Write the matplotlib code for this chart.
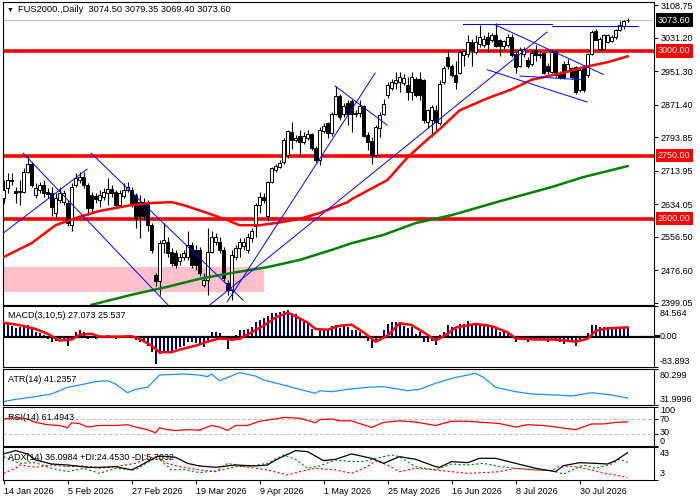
import numpy as np
import matplotlib
matplotlib.use("Agg")
from matplotlib import pyplot as plt
from matplotlib.patches import Rectangle
from matplotlib.transforms import blended_transform_factory

plt.rcParams['font.family'] = ['Liberation Sans', 'DejaVu Sans']

# daily candles, 14 Jan 2026 .. mid Aug 2026
opens = [
    2648, 2672, 2690, 2666, 2664, 2664, 2712, 2731, 2656, 2668,
    2680, 2664, 2660, 2613, 2644, 2640, 2636, 2585, 2680, 2692,
    2700, 2680, 2656, 2654, 2644, 2652, 2662, 2670, 2664, 2632,
    2654, 2668, 2668, 2656, 2640, 2640, 2636, 2585, 2466, 2450,
    2541, 2545, 2521, 2517, 2498, 2509, 2509, 2537, 2525, 2525,
    2442, 2454, 2521, 2545, 2545, 2525, 2446, 2430, 2509, 2529,
    2535, 2525, 2553, 2581, 2632, 2652, 2605, 2688, 2716, 2724,
    2735, 2751, 2807, 2787, 2796, 2783, 2793, 2801, 2769, 2739,
    2809, 2827, 2803, 2850, 2892, 2849, 2876, 2880, 2849, 2852,
    2868, 2799, 2785, 2751, 2815, 2850, 2894, 2912, 2923, 2926,
    2923, 2918, 2902, 2934, 2934, 2930, 2831, 2835, 2858, 2827,
    2926, 2985, 2965, 2942, 2947, 2989, 2992, 3021, 2997, 3017,
    3013, 3033, 3025, 3039, 3027, 3011, 3013, 3034, 2993, 2965,
    2993, 2979, 2968, 3003, 2989, 2995, 2965, 2950, 2997, 2946,
    2969, 2954, 2958, 2961, 2906, 2961, 2942, 2993, 3047, 3005,
    3005, 3021, 3023, 3033, 3049, 3059, 3074.50]
highs = [
    2692, 2708, 2708, 2676, 2692, 2720, 2749, 2735, 2684, 2688,
    2692, 2672, 2676, 2660, 2676, 2668, 2644, 2684, 2708, 2712,
    2710, 2684, 2664, 2660, 2668, 2672, 2696, 2680, 2668, 2668,
    2684, 2688, 2676, 2660, 2656, 2648, 2644, 2589, 2470, 2549,
    2589, 2557, 2530, 2525, 2517, 2525, 2569, 2545, 2537, 2533,
    2470, 2577, 2569, 2565, 2557, 2533, 2454, 2525, 2537, 2553,
    2553, 2565, 2577, 2636, 2664, 2660, 2690, 2724, 2731, 2739,
    2792, 2812, 2831, 2799, 2811, 2807, 2811, 2805, 2773, 2819,
    2827, 2831, 2853, 2915, 2898, 2876, 2882, 2886, 2858, 2882,
    2870, 2807, 2795, 2823, 2854, 2886, 2926, 2934, 2950, 2950,
    2944, 2938, 2950, 2938, 2950, 2934, 2862, 2870, 2870, 2930,
    2965, 3003, 2969, 2977, 3003, 3001, 3037, 3029, 3037, 3061,
    3037, 3045, 3042, 3066, 3029, 3027, 3041, 3041, 3001, 3009,
    3010, 2985, 3003, 3013, 2999, 2997, 2971, 3001, 3001, 2952,
    2977, 2981, 2962, 2963, 2958, 2965, 2995, 3049, 3053, 3033,
    3041, 3041, 3037, 3053, 3072, 3074, 3079.35]
lows = [
    2636, 2660, 2680, 2636, 2632, 2660, 2708, 2676, 2648, 2660,
    2652, 2648, 2605, 2601, 2636, 2632, 2581, 2569, 2676, 2684,
    2672, 2609, 2613, 2636, 2628, 2644, 2632, 2652, 2624, 2628,
    2648, 2664, 2628, 2577, 2553, 2597, 2569, 2517, 2440, 2418,
    2517, 2509, 2486, 2482, 2490, 2502, 2502, 2482, 2478, 2462,
    2436, 2418, 2517, 2537, 2517, 2450, 2418, 2406, 2502, 2509,
    2525, 2517, 2545, 2557, 2612, 2636, 2593, 2684, 2710, 2720,
    2731, 2745, 2767, 2783, 2751, 2777, 2787, 2763, 2735, 2727,
    2803, 2791, 2797, 2846, 2835, 2843, 2823, 2807, 2843, 2843,
    2795, 2763, 2731, 2747, 2795, 2846, 2888, 2906, 2910, 2902,
    2918, 2882, 2882, 2890, 2882, 2827, 2815, 2795, 2811, 2823,
    2920, 2957, 2938, 2910, 2945, 2965, 2985, 2965, 2993, 3009,
    3009, 2997, 3021, 3009, 2987, 3005, 3009, 2985, 2946, 2962,
    2985, 2958, 2963, 2977, 2983, 2944, 2945, 2947, 2938, 2932,
    2934, 2950, 2934, 2898, 2902, 2902, 2938, 2989, 3025, 3001,
    3001, 3019, 3021, 3029, 3047, 3053, 3069.40]
closes = [
    2668, 2692, 2692, 2662, 2665, 2712, 2731, 2680, 2672, 2680,
    2660, 2658, 2628, 2648, 2660, 2660, 2589, 2676, 2696, 2700,
    2680, 2624, 2624, 2646, 2656, 2664, 2670, 2660, 2632, 2660,
    2668, 2676, 2632, 2601, 2605, 2605, 2585, 2525, 2450, 2541,
    2549, 2517, 2494, 2490, 2509, 2517, 2537, 2490, 2490, 2470,
    2454, 2521, 2557, 2557, 2525, 2458, 2430, 2513, 2529, 2545,
    2543, 2557, 2569, 2632, 2652, 2644, 2688, 2720, 2725, 2733,
    2788, 2808, 2787, 2791, 2783, 2796, 2801, 2769, 2739, 2812,
    2820, 2803, 2849, 2892, 2843, 2869, 2850, 2849, 2851, 2868,
    2797, 2783, 2751, 2819, 2846, 2873, 2918, 2926, 2930, 2938,
    2936, 2902, 2938, 2894, 2894, 2835, 2858, 2866, 2831, 2922,
    2960, 2965, 2942, 2926, 2997, 2999, 3021, 3001, 3021, 3033,
    3029, 3017, 3039, 3011, 3011, 3023, 3034, 2989, 2961, 3003,
    3005, 2965, 2995, 2989, 2993, 2947, 2951, 2997, 2942, 2938,
    2938, 2969, 2938, 2902, 2954, 2906, 2993, 3045, 3027, 3029,
    3037, 3037, 3033, 3049, 3061, 3072, 3073.60]

# moving averages (sampled along the drawn curves)
ma_red_idx = [0, 7, 13, 19, 24, 32, 37, 42, 45, 51, 56, 59, 64, 68, 74, 79, 86, 87,
              96, 101, 106, 109, 114, 121, 127, 132, 140, 145, 151, 156]
ma_red = [2508, 2541, 2584, 2604, 2618, 2632, 2637, 2639, 2632, 2613, 2596, 2584,
          2584, 2589, 2599, 2613, 2639, 2646, 2692, 2746, 2789, 2813, 2858, 2887,
          2908, 2931, 2948, 2961, 2973, 2987]
ma_green_idx = [22, 32, 41, 49, 57, 66, 74, 82, 87, 95, 103, 112, 120, 124, 137, 145, 156]
ma_green = [2394, 2418, 2437, 2456, 2470, 2484, 2501, 2525, 2541, 2561, 2589, 2608,
            2630, 2641, 2675, 2699, 2725]

levels = [3000.0, 2750.0, 2600.0]
last_price = 3073.60
price_ticks = [3108.75, 3031.20, 2951.30, 2871.40, 2793.85, 2713.95, 2634.05,
               2556.50, 2476.60, 2399.05]

# pink demand zone: bar range and price range
zone_bars = (-0.25, 65)
zone_prices = (2425, 2484)

# hand drawn trend lines: (bar0, price0, bar1, price1)
trend_lines = [
    (4.9, 2756, 41.1, 2394),
    (-0.1, 2565, 20.9, 2718),
    (21.9, 2756, 59.9, 2405),
    (55.9, 2401, 92.9, 2947),
    (51.6, 2394, 135.9, 3045),
    (82.9, 2916, 95.9, 2823),
    (114.9, 3063, 137.1, 3063),
    (137.1, 3060, 158.6, 3060),
    (122.9, 3062, 149.9, 2944),
    (120.9, 2955, 145.9, 2878),
    (129.1, 2940, 144.9, 2931),
]

# MACD(3,10,5)
macd_main = [
    35, 35, 30, 23, 26, 30, 32, 23, 12, 9,
    5, -6, -16, -11, -6, -11, -27, -5, 12, 18,
    14, -6, -5, -6, -2, 1, 5, 3, -6, -5,
    3, 5, -5, -8, -14, -16, -25, -43, -75, -48,
    -43, -43, -39, -34, -29, -25, -16, -16, -18, -20,
    -29, -14, 12, 14, 10, -6, -34, -11, 5, 17,
    17, 21, 26, 41, 47, 51, 58, 65, 65, 67,
    72, 74, 65, 63, 49, 40, 38, 21, 3, 21,
    21, 21, 30, 32, 23, 30, 26, 19, 17, 14,
    -5, -11, -32, -11, 3, 17, 35, 41, 41, 40,
    30, 23, 26, 7, 12, -16, -16, -11, -23, 5,
    12, 32, 26, 21, 35, 35, 44, 35, 35, 35,
    32, 26, 29, 23, 12, 12, 10, 5, -16, -6,
    -5, -14, -8, -6, -8, -8, -16, -6, -11, -14,
    -20, -11, -16, -25, -11, -5, 9, 32, 32, 27,
    27, 27, 27, 27, 27, 27, 27.073]
macd_sig_idx = [0, 4, 8, 11, 14, 17, 19, 22, 24, 29, 32, 34, 37, 39, 42, 44, 48, 51,
                54, 57, 59, 62, 65, 68, 71, 73, 76, 78, 81, 84, 87, 90, 93, 96, 99,
                102, 106, 108, 111, 113, 118, 122, 126, 128, 133, 138, 143, 146,
                148, 151, 156]
macd_sig = [38, 32, 21, 8, -11, -8, 5, 8, 0, 0, 1, -6, -25, -43, -43, -36, -25, -14,
            -5, -8, -6, 12, 30, 53, 66, 56, 39, 21, 19, 30, 33, 12, -14, 3, 37, 32,
            5, -11, 8, 25, 35, 29, 12, -5, -8, -8, -14, -6, 16, 23, 25.537]

# ATR(14)
atr_idx = [0, 3, 8, 12, 16, 19, 23, 26, 28, 31, 33, 36, 39, 45, 49, 51, 52, 54, 59,
           63, 65, 70, 74, 78, 79, 82, 86, 91, 95, 101, 104, 108, 112, 118, 120,
           123, 128, 132, 138, 142, 147, 152, 156]
atr = [36.5, 39.6, 43.2, 46.8, 55.7, 58.8, 63.3, 64.6, 60.2, 48.5, 53.0, 55.7, 72.2,
       73.6, 72.2, 70.0, 73.6, 64.6, 75.4, 70.9, 65.5, 58.8, 53.0, 47.7, 51.2, 49.9,
       53.0, 55.7, 56.6, 51.2, 53.0, 61.1, 67.8, 74.5, 69.1, 55.7, 49.9, 46.8, 45.4,
       44.1, 48.5, 45.4, 41.2357]

# RSI(14)
rsi_idx = [0, 3, 6, 8, 11, 14, 16, 17, 19, 21, 24, 28, 31, 33, 36, 38, 39, 41, 43,
           46, 49, 52, 54, 56, 58, 61, 64, 68, 70, 74, 78, 79, 82, 84, 87, 89, 92,
           95, 99, 103, 108, 112, 116, 120, 124, 128, 131, 135, 138, 143, 147, 150,
           153, 156]
rsi = [69, 72, 69, 60, 54, 52, 46, 59, 57, 48, 52, 52, 54, 48, 41, 33, 46, 41, 39,
       41, 40, 52, 48, 39, 52, 52, 63, 69, 73, 71, 59, 67, 69, 64, 64, 57, 47, 60,
       64, 61, 52, 63, 63, 60, 57, 48, 54, 52, 48, 41, 56, 56, 60, 61.4943]

# ADX(14)
adx_idx = [0, 3, 6, 8, 12, 16, 21, 24, 28, 32, 34, 38, 39, 43, 46, 49, 53, 58, 63,
           66, 68, 73, 76, 80, 83, 87, 92, 95, 99, 103, 108, 109, 112, 116, 119,
           123, 128, 133, 138, 140, 144, 148, 151, 153, 156]
adx = [34.6, 38.6, 34.6, 27.3, 22.4, 21.2, 18.4, 18.4, 19.2, 15.2, 20.0, 30.5, 32.1,
       30.5, 23.2, 20.0, 18.4, 21.2, 20.0, 21.2, 27.3, 38.6, 37.4, 26.5, 28.1, 34.6,
       29.3, 23.2, 31.3, 28.1, 19.2, 18.4, 25.3, 24.0, 29.3, 29.3, 23.2, 17.2, 13.1,
       20.4, 24.0, 23.2, 22.4, 26.5, 36.0984]
pdi_idx = [0, 4, 8, 12, 16, 20, 24, 28, 33, 37, 39, 42, 45, 49, 54, 58, 62, 66, 70,
           73, 76, 79, 83, 87, 90, 93, 97, 99, 103, 108, 112, 116, 120, 124, 128,
           133, 137, 140, 145, 148, 152, 154, 156]
pdi = [31.3, 23.2, 24.0, 17.2, 13.1, 17.2, 11.1, 17.2, 15.2, 27.3, 28.1, 15.2, 16.0,
       11.9, 14.4, 19.2, 20.0, 23.2, 33.3, 28.1, 17.2, 20.0, 27.3, 25.3, 25.3, 29.3,
       33.3, 31.3, 19.2, 15.2, 22.4, 21.2, 23.2, 19.2, 17.2, 15.2, 14.4, 10.3, 21.2,
       17.2, 22.4, 28.1, 24.4530]
ndi_idx = [0, 3, 4, 8, 12, 16, 20, 24, 28, 33, 36, 38, 41, 44, 49, 53, 56, 59, 63,
           66, 71, 74, 78, 83, 87, 91, 93, 96, 99, 103, 108, 112, 116, 120, 124,
           128, 133, 137, 139, 143, 147, 150, 153, 156]
ndi = [11.1, 17.2, 21.2, 18.4, 21.2, 19.2, 20.0, 17.2, 19.2, 23.2, 29.3, 31.3, 23.2,
       19.2, 15.2, 13.1, 23.2, 20.0, 17.2, 15.2, 9.1, 13.1, 17.2, 15.2, 11.1, 19.2,
       26.5, 21.2, 13.1, 17.2, 15.2, 13.1, 11.1, 11.9, 13.1, 17.2, 15.2, 14.4, 20.0,
       19.2, 15.2, 11.1, 9.1, 5.7632]

date_pos = [0, 16, 32, 48, 64, 80, 96, 112, 128, 144]
date_labels = ['14 Jan 2026', '5 Feb 2026', '27 Feb 2026', '19 Mar 2026', '9 Apr 2026',
               '1 May 2026', '25 May 2026', '16 Jun 2026', '8 Jul 2026', '30 Jul 2026']

FS = 6.5
W, H = 700, 500
fig = plt.figure(figsize=(7, 5), dpi=100)
fig.patch.set_facecolor('white')


def panel(top_px, bottom_px):
    ax = fig.add_axes([2.5 / W, 1 - bottom_px / H, 651.5 / W, (bottom_px - top_px) / H])
    ax.set_xlim(-0.25, 162.6)
    ax.set_xticks([])
    for s in ax.spines.values():
        s.set_linewidth(0.8)
        s.set_color('black')
    ax.yaxis.tick_right()
    ax.tick_params(axis='y', length=3, width=0.7, pad=2, labelsize=FS, direction='out')
    return ax


def side_labels(ax, items):
    # MT4 style scale texts for the sub windows: (value, text, va, shift in px)
    trans = blended_transform_factory(ax.transAxes, ax.transData)
    ax.set_yticks([v for v, _, _, _ in items])
    ax.set_yticklabels([])
    for v, txt, va, dy in items:
        ax.annotate(txt, xy=(1, v), xycoords=trans, xytext=(6, dy),
                    textcoords='offset pixels', ha='left', va=va, fontsize=FS,
                    annotation_clip=False)


def title(ax, txt):
    ax.annotate(txt, xy=(0, 1), xycoords='axes fraction', xytext=(5, -10),
                textcoords='offset pixels', ha='left', va='center', fontsize=FS)


# ---- main price window
main = panel(2, 305)
main.set_ylim(2393.6, 3116.6)
o, h, l, c = (np.array(v, dtype=float) for v in (opens, highs, lows, closes))
idx = np.arange(len(c))
up = c >= o

main.axhline(last_price, color='#c0c0c0', lw=0.8, zorder=1)
main.add_patch(Rectangle((zone_bars[0], zone_prices[0]), zone_bars[1] - zone_bars[0],
                         zone_prices[1] - zone_prices[0], facecolor='pink',
                         edgecolor='none', zorder=0))
for lvl in levels:
    main.axhline(lvl, color='red', lw=2.6, zorder=2)

main.vlines(idx, l, h, color='black', lw=0.8, zorder=3)
body_lo = np.minimum(o, c)
body_h = np.maximum(np.abs(c - o), 1.0)
main.bar(idx[up], body_h[up], bottom=body_lo[up], width=0.55, facecolor='white',
         edgecolor='black', linewidth=0.7, zorder=4)
main.bar(idx[~up], body_h[~up], bottom=body_lo[~up], width=0.55, facecolor='black',
         edgecolor='black', linewidth=0.7, zorder=4)

main.plot(ma_red_idx, ma_red, color='red', lw=1.8, zorder=5)
main.plot(ma_green_idx, ma_green, color='#008000', lw=1.8, zorder=5)
for x0, y0, x1, y1 in trend_lines:
    main.plot([x0, x1], [y0, y1], color='blue', lw=0.7, zorder=6)

main.set_yticks(price_ticks)
main.set_yticklabels(['%.2f' % t for t in price_ticks])
trans = blended_transform_factory(main.transAxes, main.transData)
for lvl in levels:
    main.annotate('%.2f' % lvl, xy=(1, lvl), xycoords=trans, xytext=(4, 0),
                  textcoords='offset pixels', ha='left', va='center', fontsize=FS,
                  color='white', annotation_clip=False, zorder=10,
                  bbox=dict(boxstyle='square,pad=0.25', fc='red', ec='none'))
main.annotate('%.2f' % last_price, xy=(1, last_price), xycoords=trans, xytext=(4, 0),
              textcoords='offset pixels', ha='left', va='center', fontsize=FS,
              color='white', annotation_clip=False, zorder=10,
              bbox=dict(boxstyle='square,pad=0.25', fc='black', ec='none'))

fig.text(7 / W, 1 - 10 / H, '\u25bc', fontsize=5, va='center', ha='left')
fig.text(18 / W, 1 - 10 / H, 'FUS2000.,Daily  3074.50 3079.35 3069.40 3073.60',
         fontsize=6.7, va='center', ha='left')

# ---- MACD
ax_macd = panel(306, 367)
ax_macd.set_ylim(-83.893, 84.564)
ax_macd.bar(idx, macd_main, width=0.5, color='#000080', zorder=2)
ax_macd.axhline(0, color='black', lw=1.6, zorder=3)
ax_macd.plot(macd_sig_idx, macd_sig, color='red', lw=1.8, zorder=4)
side_labels(ax_macd, [(84.564, '84.564', 'top', -3), (0, '0.00', 'center', 0),
                      (-83.893, '-83.893', 'bottom', 1)])
tm = blended_transform_factory(ax_macd.transAxes, ax_macd.transData)
ax_macd.add_patch(Rectangle((1.0015, -4.5), 0.008, 9, transform=tm, facecolor='black',
                            edgecolor='none', clip_on=False))
title(ax_macd, 'MACD(3,10,5) 27.073 25.537')

# ---- ATR
ax_atr = panel(369, 405)
ax_atr.set_ylim(31.9996, 80.299)
ax_atr.plot(atr_idx, atr, color='#1e90ff', lw=0.9)
side_labels(ax_atr, [(80.299, '80.299', 'top', -2), (31.9996, '31.9996', 'bottom', 1)])
title(ax_atr, 'ATR(14) 41.2357')

# ---- RSI
ax_rsi = panel(407, 445.5)
ax_rsi.set_ylim(0, 100)
for lv in (70, 30):
    ax_rsi.axhline(lv, color='#c0c0c0', lw=0.8, ls=(0, (3, 2)))
ax_rsi.plot(rsi_idx, rsi, color='red', lw=0.9)
side_labels(ax_rsi, [(100, '100', 'top', 1), (70, '70', 'center', -1),
                     (30, '30', 'center', 1), (0, '0', 'bottom', -1)])
title(ax_rsi, 'RSI(14) 61.4943')

# ---- ADX
ax_adx = panel(447, 480)
ax_adx.set_ylim(3, 43)
ax_adx.plot(pdi_idx, pdi, color='#008000', lw=0.8, ls=(0, (2, 2)))
ax_adx.plot(ndi_idx, ndi, color='red', lw=0.8, ls=(0, (2, 2)))
ax_adx.plot(adx_idx, adx, color='black', lw=0.9)
side_labels(ax_adx, [(43, '43', 'top', -2), (3, '3', 'bottom', 2)])
title(ax_adx, 'ADX(14) 36.0984 +DI:24.4530 -DI:5.7632')

ax_adx.set_xticks(date_pos)
ax_adx.set_xticklabels(date_labels, ha='left', fontsize=FS)
ax_adx.tick_params(axis='x', length=3, width=0.7, pad=2, direction='out')

fig.savefig('out.png', dpi=100, facecolor='white')
